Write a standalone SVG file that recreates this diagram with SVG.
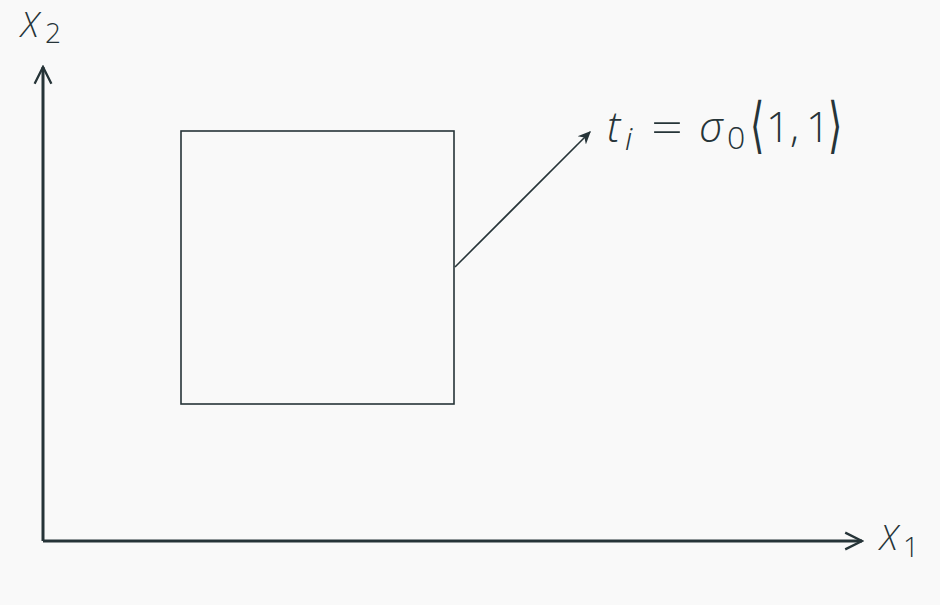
<svg xmlns="http://www.w3.org/2000/svg" width="940" height="605" viewBox="0 0 940 605">
<defs>
<style>
.ln{stroke:#263438;fill:none}
.tx{font-family:"Open Sans","DejaVu Sans",sans-serif;font-weight:300;fill:#263438}
.it{font-style:italic}
</style>
<marker id="ah" viewBox="0 0 10 10" refX="9" refY="5" markerWidth="13" markerHeight="13" markerUnits="userSpaceOnUse" orient="auto">
<path d="M0,0.5 L10,5 L0,9.5 L3,5 Z" fill="#263438"/>
</marker>
<marker id="ax" viewBox="0 0 10 10" refX="9" refY="5" markerWidth="7" markerHeight="7" orient="auto">
<path d="M1,1 L9,5 L1,9" fill="none" stroke="#263438" stroke-width="1.1"/>
</marker>
</defs>
<rect width="940" height="605" fill="#f9f9f9"/>
<g id="connectors">
<line class="ln" x1="43" y1="541" x2="43" y2="67" stroke-width="3" marker-end="url(#ax)"/>
<line class="ln" x1="43" y1="541" x2="862" y2="541" stroke-width="3" marker-end="url(#ax)"/>
<line class="ln" x1="455" y1="267" x2="590" y2="132" stroke-width="1.6" marker-end="url(#ah)"/>
</g>
<g id="box">
<rect class="ln" x="181" y="131" width="273" height="273" stroke-width="1.6"/>
</g>
<g id="label-x2">
<text class="tx" font-size="35"><tspan class="it" x="21" y="37">X</tspan><tspan x="45" y="43" font-size="28">2</tspan></text>
</g>
<g id="label-x1">
<text class="tx" font-size="35"><tspan class="it" x="880" y="550">X</tspan><tspan x="903" y="557" font-size="28">1</tspan></text>
</g>
<g id="label-t">
<text class="tx" font-size="42"><tspan class="it" x="607" y="142">t</tspan><tspan class="it" x="625" y="150" font-size="32">i</tspan><tspan x="651" y="143" font-size="44" textLength="32" lengthAdjust="spacingAndGlyphs">=</tspan><tspan class="it" x="699" y="142">σ</tspan><tspan x="727" y="149" font-size="32">0</tspan></text>
<text class="tx" font-size="61" transform="translate(750,146) scale(0.6,1)">⟨</text>
<text class="tx" font-size="42"><tspan x="766" y="142">1,</tspan><tspan x="806" y="142">1</tspan></text>
<text class="tx" font-size="61" transform="translate(828,146) scale(0.6,1)">⟩</text>
</g>
</svg>
